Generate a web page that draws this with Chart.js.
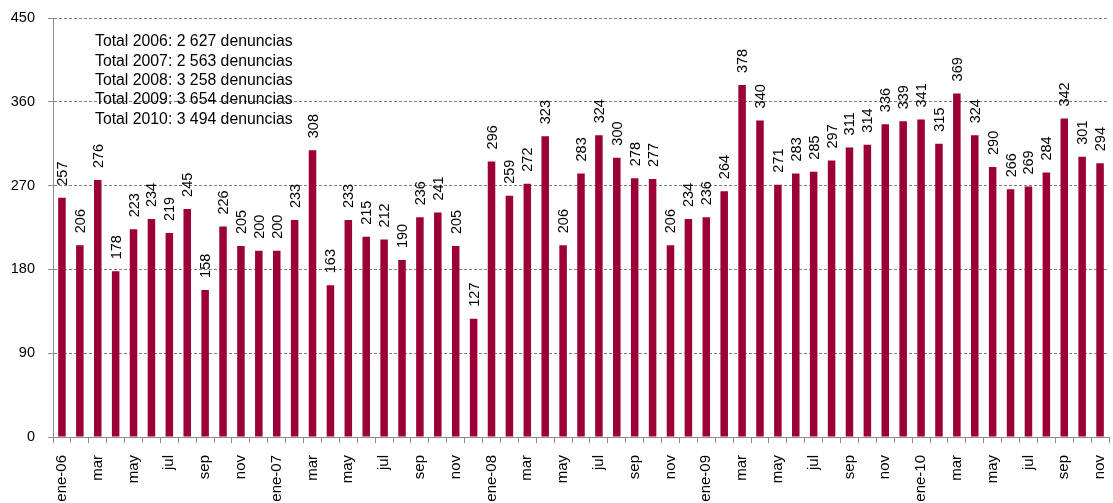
<!DOCTYPE html>
<html>
<head>
<meta charset="utf-8">
<script src="https://cdn.jsdelivr.net/npm/chart.js@4.4.1/dist/chart.umd.min.js"></script>
<style>
html,body{margin:0;padding:0;background:#fff;overflow:hidden;}
#wrap{width:1113px;height:503px;position:relative;}
</style>
</head>
<body>
<div id="wrap"><canvas id="c" width="1113" height="503"></canvas></div>
<script>
const months = ["ene","feb","mar","abr","may","jun","jul","ago","sep","oct","nov","dic"];
const years = ["06","07","08","09","10"];
const categories = [];
years.forEach(y => months.forEach((m, i) => categories.push(i === 0 ? m + "-" + y : m)));
categories.length = 59; // ene-06 .. nov-10

const values2006 = [257, 206, 276, 178, 223, 234, 219, 245, 158, 226, 205, 200];
const values2007 = [200, 233, 308, 163, 233, 215, 212, 190, 236, 241, 205, 127];
const values2008 = [296, 259, 272, 323, 206, 283, 324, 300, 278, 277, 206, 234];
const values2009 = [236, 264, 378, 340, 271, 283, 285, 297, 311, 314, 336, 339];
const values2010 = [341, 315, 369, 324, 290, 266, 269, 284, 342, 301, 294];
const denuncias = [].concat(values2006, values2007, values2008, values2009, values2010);

const totalLines = [
  "Total 2006: 2 627 denuncias",
  "Total 2007: 2 563 denuncias",
  "Total 2008: 3 258 denuncias",
  "Total 2009: 3 654 denuncias",
  "Total 2010: 3 494 denuncias"
];
const yTicks = [0, 90, 180, 270, 360, 450];

const FONT = "'Liberation Sans', Arial, sans-serif";
const BAR = "#9B0036";

const labelPlugin = {
  id: 'barLabels',
  afterDatasetsDraw(chart) {
    const ctx = chart.ctx;
    const meta = chart.getDatasetMeta(0);
    ctx.save();
    ctx.fillStyle = "#000";
    ctx.font = "14.5px " + FONT;
    ctx.textAlign = "left";
    ctx.textBaseline = "middle";
    meta.data.forEach((bar, i) => {
      ctx.save();
      ctx.translate(bar.x + 1, bar.y - 12);
      ctx.rotate(-Math.PI / 2);
      ctx.fillText(String(chart.data.datasets[0].data[i]), 0, 0);
      ctx.restore();
    });
    ctx.restore();
  },
  afterDraw(chart) {
    const ctx = chart.ctx;
    const a = chart.chartArea;
    ctx.save();
    ctx.fillStyle = "#000";
    ctx.font = "15.8px " + FONT;
    ctx.textAlign = "left";
    ctx.textBaseline = "middle";
    totalLines.forEach((t, i) => {
      ctx.fillText(t, a.left + 42, 42 + i * 19.3);
    });
    ctx.restore();
  }
};

new Chart(document.getElementById('c'), {
  type: 'bar',
  data: {
    labels: categories,
    datasets: [{
      data: denuncias,
      backgroundColor: BAR,
      borderWidth: 0,
      barPercentage: 0.42,
      categoryPercentage: 1.0
    }]
  },
  options: {
    responsive: false,
    animation: false,
    devicePixelRatio: 1,
    layout: { padding: { top: 18, right: 4, left: 0, bottom: 0 } },
    plugins: { legend: { display: false }, tooltip: { enabled: false } },
    scales: {
      y: {
        min: 0, max: 450,
        afterFit(s) { s.width = 53; s.paddingTop = 0; s.paddingBottom = 0; },
        afterBuildTicks(s) { s.ticks = yTicks.map(v => ({ value: v })); },
        ticks: { color: "#000", font: { family: FONT, size: 14.5 }, padding: 13 },
        grid: { color: "#7f7f7f", lineWidth: 1, tickLength: 5, drawTicks: true, tickColor: "#8c8c8c" },
        border: { display: true, color: "#8c8c8c", dash: [3, 2] }
      },
      x: {
        afterFit(s) { s.height = 66; s.paddingLeft = 0; s.paddingRight = 0; },
        ticks: {
          color: "#000",
          font: { family: FONT, size: 15 },
          autoSkip: false,
          maxRotation: 90, minRotation: 90,
          padding: 12,
          callback(v, i) { return i % 2 === 0 ? categories[i] : ""; }
        },
        grid: { offset: true, drawOnChartArea: false, tickLength: 6, color: "#8c8c8c" },
        border: { display: true, color: "#8c8c8c" }
      }
    }
  },
  plugins: [labelPlugin]
});
</script>
</body>
</html>
